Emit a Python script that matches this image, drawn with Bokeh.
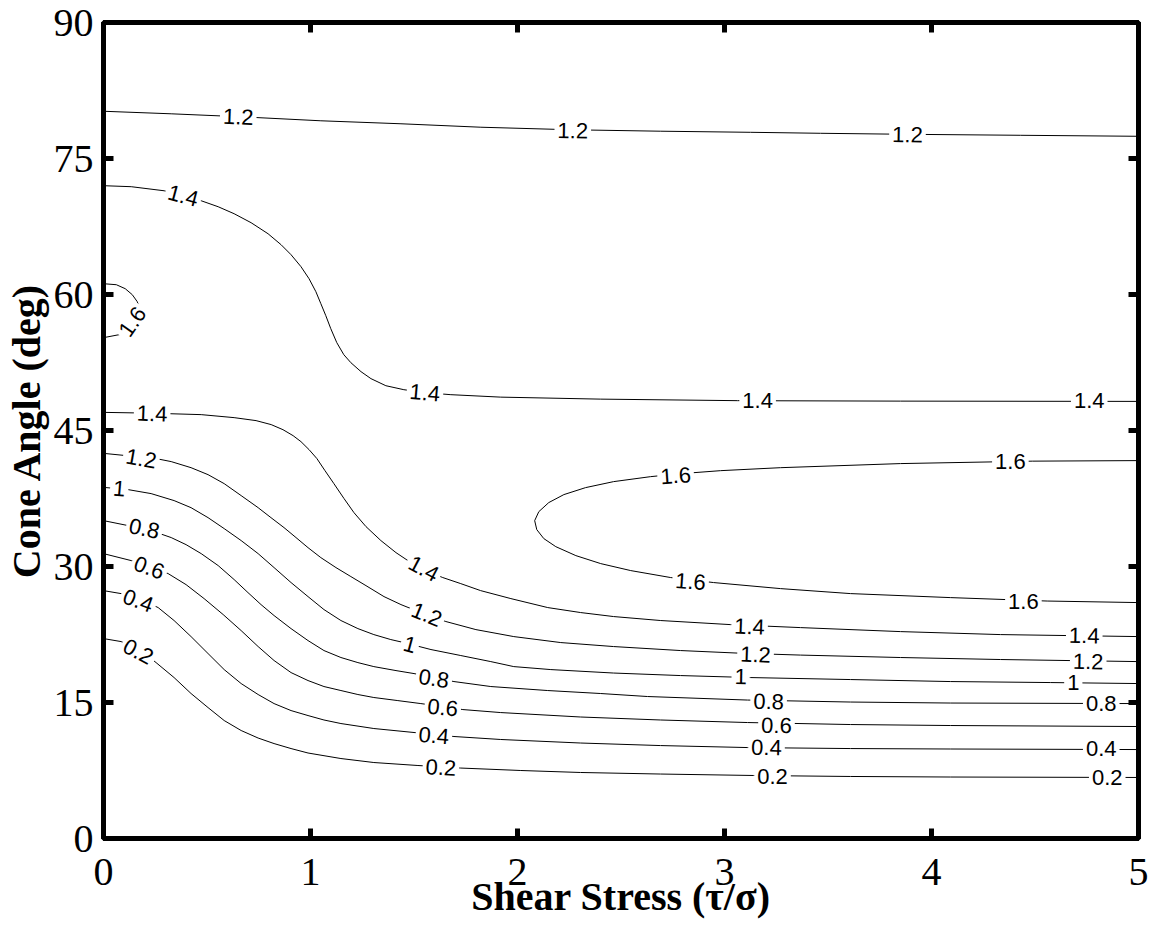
from bokeh.plotting import figure
from bokeh.models import ColumnDataSource, LinearAxis, FixedTicker, Range1d
from bokeh.core.properties import value
from bokeh.embed import file_html
from bokeh.resources import INLINE

# ---------------- data ----------------
x_ticks = [0, 1, 2, 3, 4, 5]
y_ticks = [0, 15, 30, 45, 60, 75, 90]

c12_top_x = [0, 0.327, 0.665, 1.050, 1.437, 1.823, 2.257, 2.692, 3.126, 3.464, 3.874, 4.429, 5]
c12_top_y = [80.21, 79.93, 79.60, 79.16, 78.83, 78.45, 78.17, 78.01, 77.89, 77.78, 77.67, 77.56, 77.45]

c14_up_x = [0, 0.134, 0.293, 0.385, 0.472, 0.554, 0.631, 0.713, 0.795, 0.858, 0.906, 0.954,
            0.993, 1.026, 1.050, 1.074, 1.098, 1.127, 1.161, 1.195, 1.244, 1.292, 1.364, 1.451,
            1.557, 1.678, 1.919, 2.402, 3.063, 3.850, 5]
c14_up_y = [72.00, 71.89, 71.44, 70.89, 70.34, 69.68, 68.91, 67.92, 66.70, 65.49, 64.39, 63.07,
            61.74, 60.31, 58.99, 57.66, 56.23, 54.69, 53.36, 52.48, 51.49, 50.72, 49.94, 49.50,
            49.17, 48.95, 48.68, 48.46, 48.29, 48.24, 48.21]

c16_loop_x = [0, 0.062, 0.105, 0.139, 0.163, 0.177, 0.182, 0.168, 0.134, 0.076, 0]
c16_loop_y = [61.19, 61.08, 60.64, 59.98, 59.21, 58.32, 57.33, 56.45, 55.90, 55.57, 55.24]

c14_lo_x = [0, 0.231, 0.472, 0.631, 0.737, 0.810, 0.867, 0.916, 0.954, 0.993, 1.031, 1.070,
            1.113, 1.162, 1.210, 1.268, 1.340, 1.413, 1.485, 1.557, 1.639, 1.726, 1.822, 1.968,
            2.146, 2.305, 2.464, 2.692, 3.029, 3.367, 3.850, 4.333, 5]
c14_lo_y = [47.00, 46.91, 46.75, 46.42, 46.09, 45.65, 45.09, 44.43, 43.77, 42.89, 41.90, 40.57,
            39.14, 37.49, 35.94, 34.40, 32.86, 31.53, 30.43, 29.55, 28.78, 28.11, 27.34, 26.46,
            25.47, 24.92, 24.48, 24.04, 23.59, 23.26, 22.82, 22.49, 22.27]

c16_x = [5, 4.487, 3.850, 3.271, 2.981, 2.788, 2.643, 2.464, 2.329, 2.224, 2.151, 2.103, 2.083,
         2.093, 2.127, 2.185, 2.282, 2.402, 2.547, 2.740, 2.947, 3.271, 3.609, 4.091, 4.559, 5]
c16_y = [41.68, 41.62, 41.35, 40.90, 40.57, 40.24, 39.91, 39.36, 38.70, 37.93, 37.05, 36.05, 35.06,
         34.07, 33.08, 32.19, 31.20, 30.32, 29.55, 28.78, 28.23, 27.56, 27.01, 26.57, 26.19, 26.02]

c12_x = [0, 0.110, 0.230, 0.327, 0.423, 0.505, 0.583, 0.665, 0.747, 0.809, 0.872, 0.930, 0.988,
         1.050, 1.123, 1.195, 1.268, 1.355, 1.437, 1.533, 1.654, 1.799, 1.982, 2.209, 2.464,
         2.788, 3.063, 3.367, 3.850, 4.333, 5]
c12_y = [42.48, 42.23, 42.01, 41.57, 40.90, 40.13, 39.14, 37.82, 36.49, 35.39, 34.29, 33.19, 32.08,
         30.98, 29.88, 28.89, 27.89, 26.68, 25.80, 24.92, 23.93, 23.04, 22.27, 21.61, 21.17,
         20.73, 20.45, 20.23, 19.96, 19.74, 19.51]

c10_x = [0, 0.119, 0.230, 0.341, 0.423, 0.505, 0.583, 0.665, 0.747, 0.824, 0.906, 0.988, 1.065,
         1.147, 1.229, 1.306, 1.388, 1.451, 1.582, 1.726, 1.871, 1.982, 2.161, 2.464, 2.788,
         3.126, 3.609, 4.091, 4.574, 5]
c10_y = [38.73, 38.48, 38.04, 37.27, 36.49, 35.39, 34.18, 32.86, 31.42, 29.88, 28.23, 26.68, 25.25,
         24.04, 23.15, 22.49, 21.94, 21.61, 20.84, 20.18, 19.51, 18.96, 18.63, 18.25, 17.97,
         17.75, 17.53, 17.31, 17.20, 17.09]

c08_x = [0, 0.119, 0.230, 0.327, 0.399, 0.472, 0.554, 0.631, 0.698, 0.761, 0.824, 0.906, 0.988,
         1.065, 1.147, 1.229, 1.306, 1.413, 1.500, 1.596, 1.693, 1.871, 2.146, 2.402, 2.628,
         3.111, 3.609, 4.091, 5]
c08_y = [35.06, 34.51, 33.96, 33.19, 32.41, 31.42, 30.10, 28.56, 27.12, 25.80, 24.59, 23.15, 21.83,
         20.73, 19.96, 19.40, 18.96, 18.52, 18.19, 17.75, 17.31, 16.76, 16.32, 15.99, 15.66,
         15.27, 15.05, 14.94, 14.88]

c06_x = [0, 0.134, 0.230, 0.312, 0.399, 0.486, 0.578, 0.665, 0.747, 0.824, 0.906, 0.988, 1.065,
         1.147, 1.229, 1.306, 1.422, 1.533, 1.639, 1.736, 1.919, 2.305, 2.691, 3.111, 3.609,
         4.091, 5]
c06_y = [31.42, 30.65, 29.99, 29.22, 28.00, 26.46, 24.70, 22.93, 21.17, 19.63, 18.30, 17.42, 16.76,
         16.32, 15.88, 15.55, 15.21, 14.88, 14.55, 14.22, 13.89, 13.40, 13.07, 12.79, 12.57,
         12.46, 12.35]

c04_x = [0, 0.085, 0.182, 0.264, 0.341, 0.423, 0.505, 0.583, 0.665, 0.747, 0.824, 0.906, 0.988,
         1.065, 1.147, 1.306, 1.500, 1.693, 1.919, 2.305, 2.691, 3.111, 3.609, 4.091, 5]
c04_y = [27.34, 27.01, 26.35, 25.47, 24.04, 22.27, 20.40, 18.63, 17.09, 15.88, 14.88, 14.11, 13.56,
         13.07, 12.68, 12.13, 11.69, 11.25, 10.92, 10.53, 10.25, 10.03, 9.92, 9.87, 9.81]

c02_x = [0, 0.085, 0.182, 0.254, 0.341, 0.423, 0.505, 0.583, 0.665, 0.747, 0.824, 0.906, 0.988,
         1.147, 1.306, 1.519, 1.726, 2.016, 2.305, 2.691, 3.140, 3.609, 4.091, 5]
c02_y = [22.05, 21.72, 20.73, 19.40, 17.75, 15.99, 14.44, 13.01, 11.91, 11.08, 10.47, 9.92, 9.43,
         8.82, 8.38, 8.05, 7.77, 7.50, 7.28, 7.11, 6.95, 6.84, 6.78, 6.73]

label_text = ["1.2", "1.2", "1.2",
              "1.4", "1.4", "1.4", "1.4",
              "1.6",
              "1.4", "1.4", "1.4", "1.4",
              "1.6", "1.6", "1.6", "1.6",
              "1.2", "1.2", "1.2", "1.2",
              "1", "1", "1", "1",
              "0.8", "0.8", "0.8", "0.8",
              "0.6", "0.6", "0.6",
              "0.4", "0.4", "0.4", "0.4",
              "0.2", "0.2", "0.2", "0.2"]
label_x = [0.651, 2.267, 3.884,
           0.385, 1.553, 3.160, 4.762,
           0.139,
           0.235, 1.547, 3.121, 4.738,
           2.764, 2.836, 4.381, 4.444,
           0.182, 1.562, 3.150, 4.757,
           0.076, 1.480, 3.078, 4.685,
           0.197, 1.596, 3.213, 4.820,
           0.221, 1.639, 3.251,
           0.168, 1.596, 3.203, 4.820,
           0.168, 1.630, 3.232, 4.849]
label_y = [79.60, 78.06, 77.62,
           70.89, 49.17, 48.29, 48.29,
           57.00,
           46.86, 29.77, 23.37, 22.38,
           40.02, 28.34, 41.57, 26.13,
           41.90, 24.70, 20.29, 19.51,
           38.59, 21.39, 17.86, 17.20,
           34.18, 17.64, 15.10, 14.88,
           29.88, 14.44, 12.46,
           26.24, 11.36, 10.03, 9.92,
           20.62, 7.83, 6.84, 6.73]
label_angle = [-2, -1, -1,
               -15, -5, 0, 0,
               55,
               -2, -28, -2, -1,
               4, -4, 0, 0,
               -10, -22, -2, -1,
               -5, -15, -1, 0,
               -12, -8, -1, 0,
               -20, -6, -1,
               -20, -5, -1, 0,
               -28, -3, 0, 0]

# ---------------- figure ----------------
p = figure(width=1155, height=932, x_range=Range1d(0, 5), y_range=Range1d(0, 90),
           output_backend="svg", toolbar_location=None,
           min_border_left=102, min_border_right=17, min_border_top=22, min_border_bottom=94,
           background_fill_color="white", border_fill_color="white")
p.grid.visible = False
p.outline_line_color = "black"
p.outline_line_width = 5

xs = [c12_top_x, c14_up_x, c16_loop_x, c14_lo_x, c16_x, c12_x, c10_x, c08_x, c06_x, c04_x, c02_x]
ys = [c12_top_y, c14_up_y, c16_loop_y, c14_lo_y, c16_y, c12_y, c10_y, c08_y, c06_y, c04_y, c02_y]
p.multi_line(xs=xs, ys=ys, line_color="black", line_width=1)

lsrc = ColumnDataSource(dict(x=label_x, y=label_y, text=label_text, angle=label_angle))
p.text(x="x", y="y", text="text", angle="angle", angle_units="deg", source=lsrc,
       text_align="center", text_baseline="middle",
       text_font=value("Liberation Sans"), text_font_size="22px", text_color="black",
       background_fill_color="white", padding=3)


def style(ax, ticks, show):
    ax.ticker = FixedTicker(ticks=ticks)
    ax.axis_line_width = 5
    ax.axis_line_color = "black"
    ax.major_tick_in = 10
    ax.major_tick_out = 0
    ax.major_tick_line_width = 5
    ax.major_tick_line_color = "black"
    ax.minor_tick_line_color = None
    if show:
        ax.major_label_text_font = "Liberation Serif"
        ax.major_label_text_font_size = "40px"
        ax.major_label_text_color = "black"
        ax.axis_label_text_font = "Liberation Serif"
        ax.axis_label_text_font_size = "40px"
        ax.axis_label_text_font_style = "bold"
        ax.axis_label_text_color = "black"
    else:
        ax.major_label_text_font_size = "0px"
        ax.major_label_text_color = None
        ax.major_label_standoff = 0


xa = p.xaxis[0]
ya = p.yaxis[0]
style(xa, x_ticks, True)
style(ya, y_ticks, True)
xa.axis_label = "Shear Stress (τ/σ)"
ya.axis_label = "Cone Angle (deg)"
xa.major_label_standoff = 20
xa.axis_label_standoff = -14
ya.major_label_standoff = 10
ya.axis_label_standoff = 2

top = LinearAxis()
right = LinearAxis()
style(top, x_ticks, False)
style(right, y_ticks, False)
p.add_layout(top, "above")
p.add_layout(right, "right")

open("out.html", "w").write(file_html(p, INLINE))
